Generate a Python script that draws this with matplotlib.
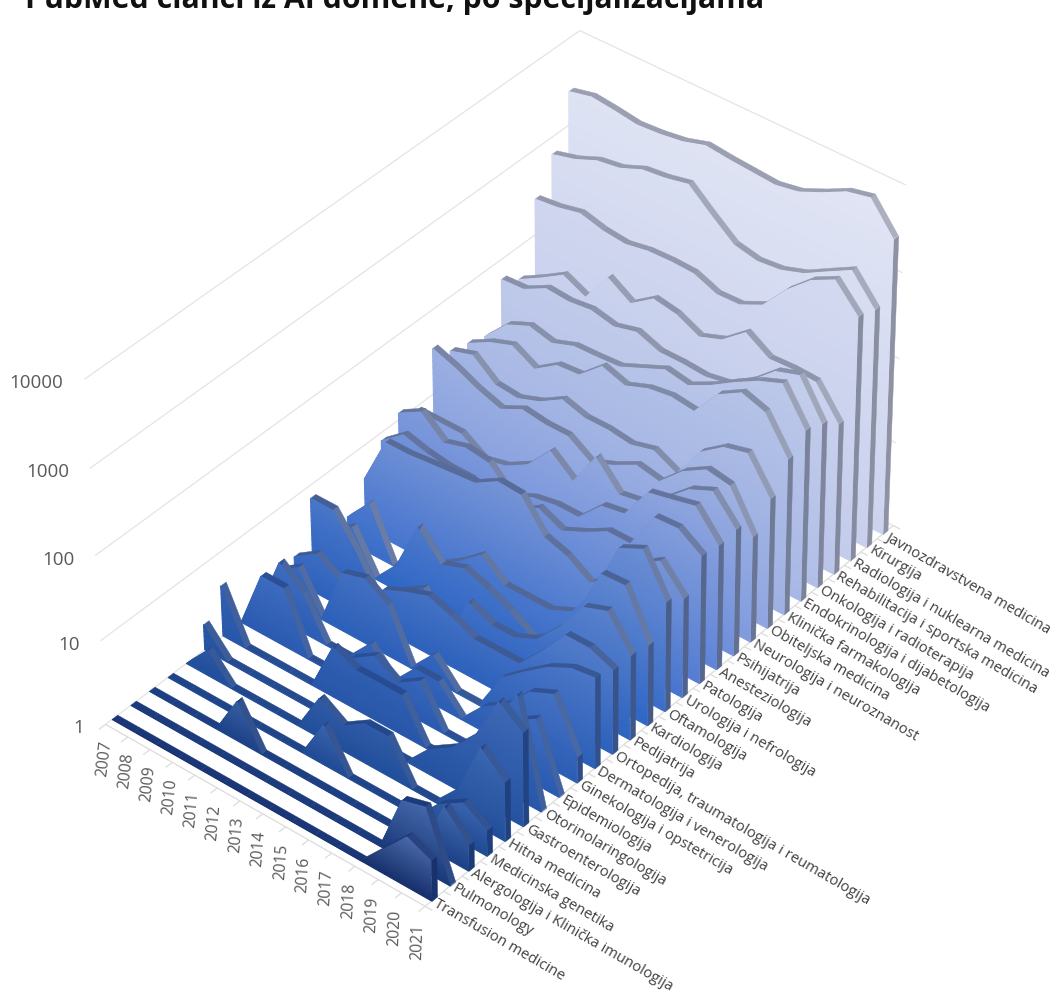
import numpy as np
import matplotlib
matplotlib.use("Agg")
import matplotlib.pyplot as plt
from mpl_toolkits.mplot3d.art3d import Poly3DCollection, Line3DCollection

plt.rcParams['font.family'] = ['Open Sans', 'DejaVu Sans']

years = list(range(2007, 2022))
specialties = ["Transfusion medicine", "Pulmonology", "Alergologija i Klinička imunologija",
    "Medicinska genetika", "Hitna medicina", "Gastroenterologija", "Otorinolaringologija",
    "Epidemiologija", "Ginekologija i opstetricija", "Dermatologija i venerologija",
    "Ortopedija, traumatologija i reumatologija", "Pedijatrija", "Kardiologija", "Oftamologija",
    "Urologija i nefrologija", "Patologija", "Anesteziologija", "Psihijatrija",
    "Neurologija i neuroznanost", "Obiteljska medicina", "Klinička farmakologija",
    "Endokrinologija i dijabetologija", "Onkologija i radioterapija",
    "Rehabilitacija i sportska medicina", "Radiologija i nuklearna medicina", "Kirurgija",
    "Javnozdravstvena medicina"]

s00 = [1,1,1,1,1,1,1,1,1,1,1,1,2,4,3]
s01 = [1,1,1,1,1,1,1,1,1,1,1,1,5,6,1]
s02 = [1,1,1,1,3,1,1,1,1,1,1,1,1,4,2]
s03 = [1,1,1,1,1,1,1,3,1,1,1,1,2,3,2]
s04 = [1,2,1,1,1,1,3,2,3,3,1,1,2,9,5]
s05 = [2,1,1,1,1,1,1,1,1,1,2,3,6,21,13]
s06 = [4,1,1,1,1,4,3,3,3,1,1,2,5,17,1]
s07 = [1,5,5,1,1,2,3,2,3,1,1,2,4,6,1]
s08 = [1,5,3,1,1,2,1,2,2,1,2,3,6,8,2]
s09 = [2,3,1,5,6,4,1,2,1,1,3,5,8,11,12]
s10 = [2,3,2,1,3,4,5,4,3,3,3,6,13,13,10]
s11 = [7,7,3,1,2,3,1,4,3,3,4,8,19,24,10]
s12 = [2,3,1,2,8,4,5,4,3,2,3,8,32,33,9]
s13 = [2,4,1,1,2,3,5,3,3,3,4,10,44,60,20]
s14 = [4,15,15,16,17,18,26,25,11,9,6,10,20,30,15]
s15 = [8,13,11,10,10,8,8,12,9,12,17,17,48,50,33]
s16 = [12,17,10,12,11,6,8,9,9,17,19,47,54,63,30]
s17 = [9,9,9,6,7,10,20,12,32,16,18,28,49,65,32]
s18 = [35,28,21,17,23,21,21,14,18,25,22,40,58,52,18]
s19 = [23,28,17,16,20,29,24,24,22,26,19,47,74,87,35]
s20 = [20,28,35,25,38,40,69,56,71,78,72,155,224,182,71]
s21 = [17,32,42,36,45,46,48,63,83,74,102,151,214,275,107]
s22 = [58,60,83,79,85,74,87,69,69,66,74,112,195,240,89]
s23 = [41,58,85,63,145,98,151,135,100,126,209,141,145,141,62]
s24 = [263,282,324,275,257,288,295,288,224,229,309,631,1096,1514,776]
s25 = [630,740,955,1050,1350,1450,1660,980,600,525,560,690,980,1380,660]
s26 = [2450,2820,2630,2400,2510,2750,3310,3090,2950,2820,3160,4170,5750,6610,3020]
series = [s00,s01,s02,s03,s04,s05,s06,s07,s08,s09,s10,s11,s12,s13,s14,s15,s16,s17,s18,s19,s20,
          s21,s22,s23,s24,s25,s26]
z_ticks = [1, 10, 100, 1000, 10000]

W, H = 1057, 997
fig = plt.figure(figsize=(W/100, H/100), dpi=100, facecolor='white')
ax = fig.add_axes([0, 0, 1, 1], projection='3d', computed_zorder=False)
ax.set_axis_off()
ax.set_xlim(0, 14); ax.set_ylim(0, 27); ax.set_zlim(0, 4)
ax.apply_aspect()

# camera: fitted so that the corners of the plot box land where they are in the chart
nx, ny, nz = 14, 27, 4
anchors = [((0,0,0),(105,722)), ((nx,0,0),(425,908)), ((nx,ny,0),(894,522)), ((0,ny,0),(580,371)),
           ((0,0,nz),(85,380)), ((nx,ny,nz),(905,187)), ((0,ny,nz),(580,28))]
inv = ax.transData.inverted()
A = []; b = []
for (X,Y,Z),(px,py) in anchors:
    u, v = inv.transform((px, H-py))
    A.append([X,Y,Z,1,0,0,0,0,-u*X,-u*Y,-u*Z]); b.append(u)
    A.append([0,0,0,0,X,Y,Z,1,-v*X,-v*Y,-v*Z]); b.append(v)
p = np.linalg.lstsq(np.array(A), np.array(b), rcond=None)[0]
r1, r2, r4 = p[:4], p[4:8], np.r_[p[8:11], 1.0]
r3 = np.linalg.svd(np.vstack([r1, r2, r4]))[2][-1]
M = np.vstack([r1, r2, r3, r4])
ax.get_proj = lambda: M

def to_fig(X, Y, Z, dx=0.0, dy=0.0):
    """Figure fraction of a 3D point, shifted by dx, dy pixels (dy downward)."""
    q = M @ np.array([X, Y, Z, 1.0])
    px, py = ax.transData.transform((q[0]/q[3], q[1]/q[3]))
    return (px + dx)/W, (py - dy)/H

hex2 = lambda h: np.array(matplotlib.colors.to_rgb(h))
stops = [0, 3, 7, 12, 16, 20, 24, 26]
bottoms = ['#16306c', '#1f4a94', '#2a5bb0', '#2f66c4', '#5f84d8', '#9fb0e4', '#c3cceb', '#ccd3ee']
tops = ['#4a68a8', '#3a64ac', '#3f6cc0', '#5f86d0', '#8ea4dd', '#b4c2e6', '#d3d9f0', '#e0e4f4']
ribbons = ['#1a3676', '#1f4488', '#2a4f94', '#4a6296', '#64749c', '#7f8aa6', '#9298ae', '#9a9fb2']
def ramp(i, table):
    arr = np.array([hex2(c) for c in table])
    return np.array([np.interp(i, stops, arr[:, k]) for k in range(3)])

def clip_z(poly, lo, hi):
    def cut(pts, keep, level):
        out = []
        for a, c in zip(pts, pts[1:] + pts[:1]):
            ka, kc = keep(a[1]), keep(c[1])
            if ka: out.append(a)
            if ka != kc:
                f = (level - a[1]) / (c[1] - a[1])
                out.append((a[0] + f*(c[0]-a[0]), level))
        return out
    pts = cut(poly, lambda z: z >= lo, lo)
    return cut(pts, lambda z: z <= hi, hi) if pts else []

# light axis lines, grid and ticks
grid = []
for k in range(5):
    grid.append([(0,0,k),(0,27,k)])
    grid.append([(0,27,k),(14,27,k)])
gl = Line3DCollection(grid, colors='#e4e4e4', linewidths=0.9)
ax.add_collection3d(gl); gl.set_zorder(1)
axl = [[(0,0,0),(14,0,0)], [(14,0,0),(14,27,0)]]
axl += [[(t,0,0),(t,-0.35,0)] for t in range(15)]
axl += [[(14,i,0),(14.3,i,0)] for i in range(28)]
al = Line3DCollection(axl, colors='#dcdcdc', linewidths=0.9)
ax.add_collection3d(al); al.set_zorder(2)

depth = 0.30
xs = np.arange(len(years), dtype=float)
n_bands = 24
for i in range(len(series)-1, -1, -1):
    zs = np.log10(np.array(series[i], dtype=float))
    zmax = max(zs.max(), 0.3)
    yf = i + 0.5 - depth/2; yb = yf + depth
    base = 30 + (26 - i)*10
    rc = ramp(i, ribbons)
    # top ribbon
    polys, cols = [], []
    lim = 0.08 + 0.14*i/26
    for t in range(14):
        polys.append([(xs[t],yf,zs[t]),(xs[t+1],yf,zs[t+1]),(xs[t+1],yb,zs[t+1]),(xs[t],yb,zs[t])])
        slope = zs[t] - zs[t+1]
        shade = 0.0 if slope < 0.05 else min(slope*0.5, lim)
        cols.append(rc + (1-rc)*shade)
    pc = Poly3DCollection(polys, facecolors=cols, edgecolors=cols, linewidths=0.3, zsort='min')
    ax.add_collection3d(pc); pc.set_zorder(base)
    # end cap at 2021
    cap = [(xs[-1],yf,0),(xs[-1],yb,0),(xs[-1],yb,zs[-1]),(xs[-1],yf,zs[-1])]
    capc = rc*0.92
    pc = Poly3DCollection([cap], facecolors=[capc], edgecolors=[capc], linewidths=0.3)
    ax.add_collection3d(pc); pc.set_zorder(base+1)
    # front face with vertical gradient
    if zs.max() > 0:
        levels = np.linspace(0, zmax, n_bands+1)
        c0, c1 = ramp(i, bottoms), ramp(i, tops)
        polys, cols = [], []
        for t in range(14):
            trap = [(xs[t],0.0),(xs[t+1],0.0),(xs[t+1],zs[t+1]),(xs[t],zs[t])]
            for k in range(n_bands):
                piece = clip_z(trap, levels[k], levels[k+1])
                if len(piece) >= 3:
                    polys.append([(a, yf, c) for a, c in piece])
                    cols.append(c0 + (c1-c0)*(k+0.5)/n_bands)
        pc = Poly3DCollection(polys, facecolors=cols, edgecolors=cols, linewidths=0.8, zsort='min')
        ax.add_collection3d(pc); pc.set_zorder(base+2)

for t, y in enumerate(years):
    fx, fy = to_fig(t, 0, 0, dx=-1-6*t/14, dy=15+2*t/14)
    fig.text(fx, fy, str(y), rotation=83+5*t/14, ha='center', va='top', fontsize=11.3, color='#595959')
for i, name in enumerate(specialties):
    fx, fy = to_fig(14.15, i+0.35, 0)
    fig.text(fx, fy, name, rotation=-30, rotation_mode='anchor', ha='left', va='center',
             fontsize=10.7, color='#404040')
for k, lab in enumerate(z_ticks):
    fx, fy = to_fig(0, 0, k, dx=-21, dy=4)
    fig.text(fx, fy, str(lab), ha='right', va='center', fontsize=13.5, color='#595959')

fig.text(25/W, 1-8/H, "PubMed članci iz AI domene, po specijalizacijama", fontsize=21.8, fontweight='bold',
         color='#111111', ha='left', va='baseline')
fig.savefig('out.png', dpi=100, facecolor='white')
